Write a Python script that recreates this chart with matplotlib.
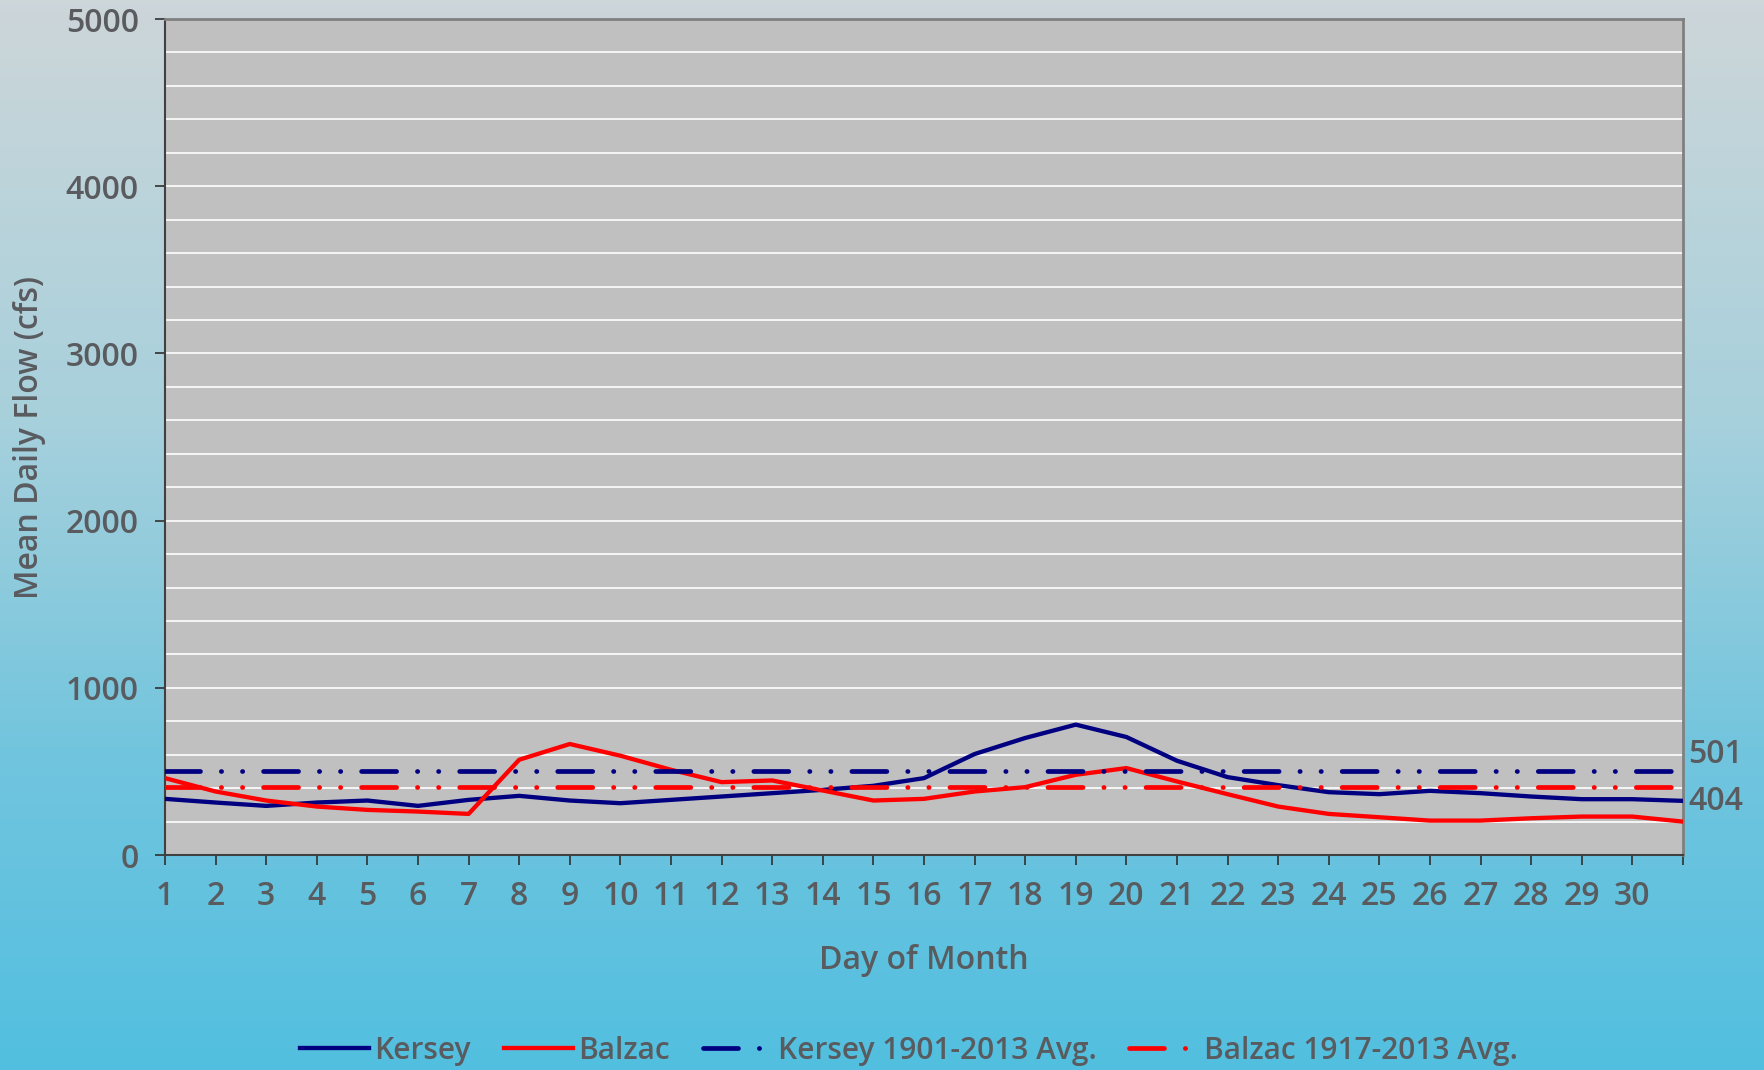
import numpy as np
import matplotlib
matplotlib.use("Agg")
import matplotlib.pyplot as plt
from matplotlib.colors import LinearSegmentedColormap

days = list(range(1, 32))
kersey = [336, 314, 294, 314, 326, 294, 330, 354, 326, 310, 330, 350, 370, 390, 414, 460,
          604, 700, 780, 706, 564, 466, 418, 376, 364, 384, 370, 350, 334, 334, 324]
balzac = [460, 380, 326, 290, 270, 260, 246, 570, 664, 594, 510, 436, 446, 386, 326, 336,
          380, 406, 480, 520, 440, 364, 290, 246, 226, 206, 206, 220, 230, 230, 200]
kersey_avg = 501
balzac_avg = 404
day_labels = [str(d) for d in range(1, 31)] + [""]

txt = "#595b5f"
plt.rcParams['font.family'] = ['Open Sans', 'DejaVu Sans']
plt.rcParams['font.weight'] = 'semibold'
plt.rcParams['axes.labelweight'] = 'semibold'
plt.rcParams['lines.scale_dashes'] = False

fig = plt.figure(figsize=(17.65, 10.70), dpi=100)

# background gradient
bg = fig.add_axes([0, 0, 1, 1], zorder=-10)
cmap = LinearSegmentedColormap.from_list(
    "bg", [(0.0, "#cdd6d9"), (0.4, "#a6d0dc"), (0.7, "#72c5de"), (1.0, "#52bfe0")])
bg.imshow(np.linspace(0, 1, 256).reshape(-1, 1), aspect="auto", cmap=cmap,
          extent=[0, 1, 0, 1])
bg.axis("off")

ax = fig.add_axes([0.0935, 0.2009, 0.86, 0.7813])
ax.set_facecolor("#c0c0c0")

ax.plot(days, kersey, color="#000080", lw=3.1, label="Kersey", zorder=3)
ax.plot(days, balzac, color="#ff0000", lw=3.1, label="Balzac", zorder=3)
dash = (0, (25.2, 15, 0.2, 15, 0.2, 15))
ax.plot([1, 31], [kersey_avg] * 2, color="#000080", lw=3.4, linestyle=dash,
        dash_capstyle="round", label="Kersey 1901-2013 Avg.", zorder=4)
ax.plot([1, 31], [balzac_avg] * 2, color="#ff0000", lw=3.4, linestyle=dash,
        dash_capstyle="round", label="Balzac 1917-2013 Avg.", zorder=4)

ax.annotate(str(kersey_avg), (31, kersey_avg), xytext=(4, 12), textcoords="offset points",
            ha="left", va="center", fontsize=23, color=txt, annotation_clip=False)
ax.annotate(str(balzac_avg), (31, balzac_avg), xytext=(4, -10), textcoords="offset points",
            ha="left", va="center", fontsize=23, color=txt, annotation_clip=False)

ax.set_xlim(1, 31)
ax.set_ylim(0, 5000)
ax.set_xticks(days)
ax.set_xticklabels(day_labels)
ax.set_yticks(range(0, 5001, 1000))
ax.set_yticks(range(0, 5001, 200), minor=True)
ax.grid(True, which="both", axis="y", color="white", lw=1.2)
ax.set_axisbelow(True)
ax.tick_params(axis="both", which="major", direction="out", length=7, width=1.2,
               color="#303030", labelsize=23, labelcolor=txt)
ax.tick_params(axis="y", which="major", pad=12)
ax.tick_params(axis="x", which="major", pad=11)
ax.tick_params(axis="y", which="minor", length=0)

for s in ["left", "bottom"]:
    ax.spines[s].set_color("#404040")
    ax.spines[s].set_linewidth(1.5)
for s in ["top", "right"]:
    ax.spines[s].set_color("#808080")
    ax.spines[s].set_linewidth(2)

ax.set_xlabel("Day of Month", fontsize=23, color=txt, labelpad=22)
ax.set_ylabel("Mean Daily Flow (cfs)", fontsize=23, color=txt, labelpad=14)

fig.legend(loc="center", bbox_to_anchor=(0.515, 0.018), ncol=4, frameon=False,
           fontsize=21.5, labelcolor=txt, handlelength=2.3, handletextpad=0.2,
           columnspacing=1.1)

fig.savefig("out.png", dpi=100)
